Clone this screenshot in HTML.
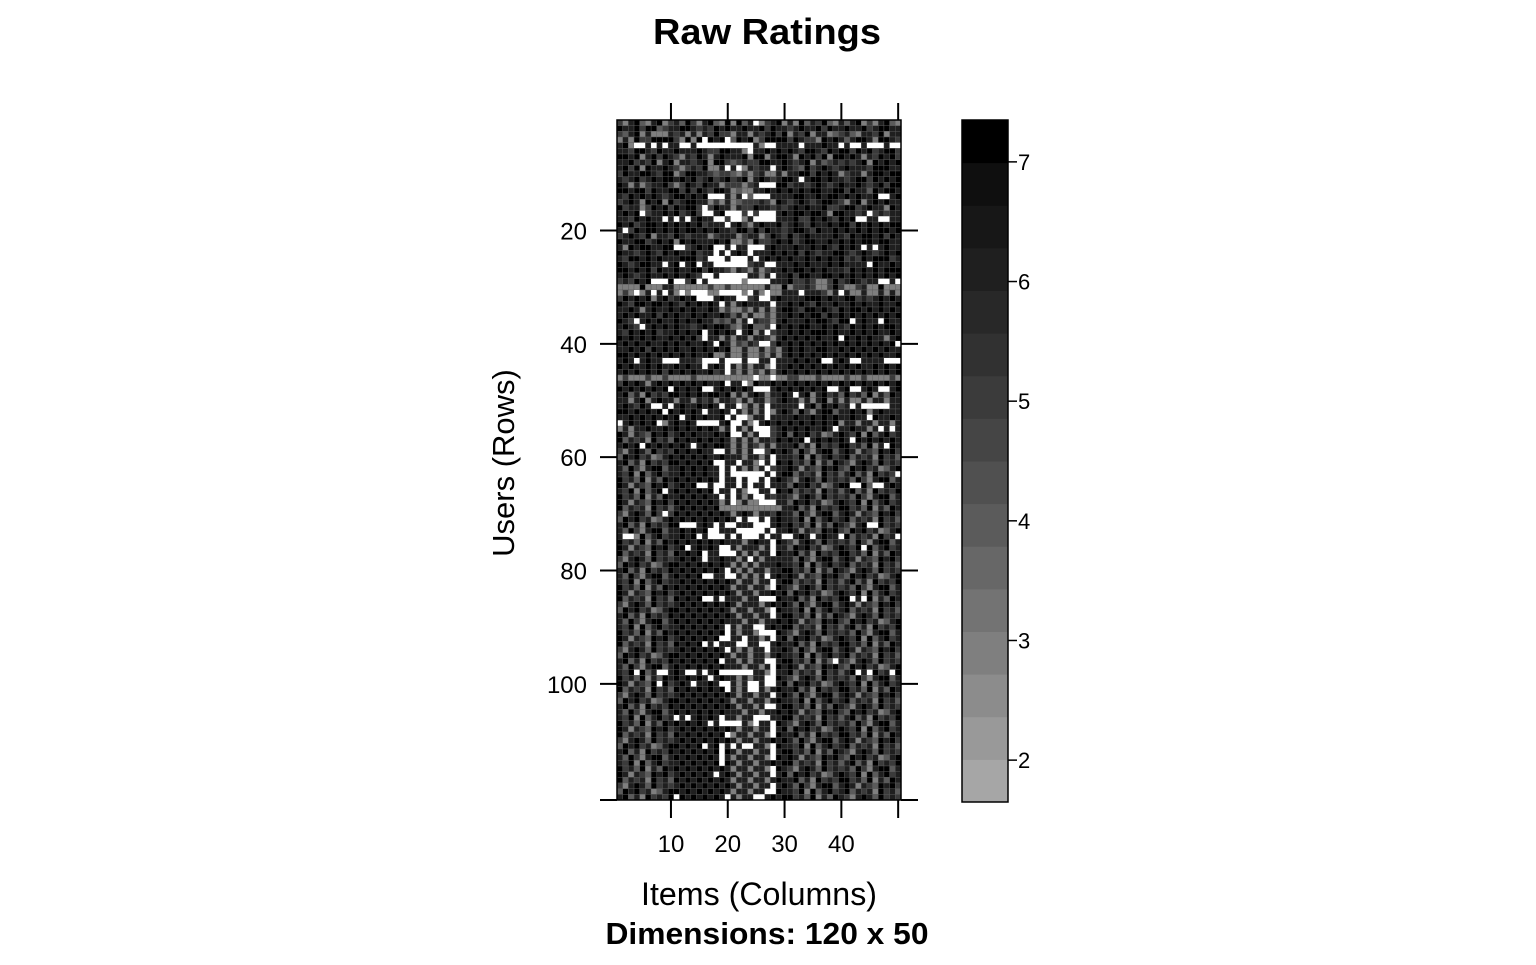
<!DOCTYPE html>
<html><head><meta charset="utf-8"><style>
html,body{margin:0;padding:0;background:#fff;}
svg text{font-family:"Liberation Sans",Arial,sans-serif;fill:#000;}
</style></head><body>
<svg id="chart" width="1536" height="960" viewBox="0 0 1536 960" xmlns="http://www.w3.org/2000/svg">
<text x="767" y="44" font-size="36" font-weight="bold" text-anchor="middle" textLength="228" lengthAdjust="spacingAndGlyphs">Raw Ratings</text>
<text x="759" y="905" font-size="32" text-anchor="middle" textLength="236" lengthAdjust="spacingAndGlyphs">Items (Columns)</text>
<text x="767" y="944" font-size="31" font-weight="bold" text-anchor="middle" textLength="323" lengthAdjust="spacingAndGlyphs">Dimensions: 120 x 50</text>
<text transform="translate(514,463) rotate(-90)" font-size="31" text-anchor="middle">Users (Rows)</text>
<g id="cells"></g>
<rect x="617" y="120" width="284" height="680" fill="none" stroke="#000" stroke-width="1.5"/>
<g id="axes"></g>
<g id="cbar"></g>
</svg>
<script>
const nRows = 120;
const nCols = 50;
const xTicks = [10, 20, 30, 40, 50];
const xTickLabels = ["10", "20", "30", "40", ""];
const yTicks = [20, 40, 60, 80, 100, 120];
const yTickLabels = ["20", "40", "60", "80", "100", ""];
const cbarTicks = [2, 3, 4, 5, 6, 7];
const cbarMin = 1.65;
const cbarMax = 7.35;
const cbarBands = 16;
// rating per cell (5 groups of 10 columns): digit = rating, '.' = missing
const ratingRows = [
"5367436735 6475367437 3746.35673 6374657436 4673536743",
"7667577456 6776565767 6676675766 5676675766 7667567766",
"5467363336 5636365755 3663656757 3657366345 6436657366",
"3637557777 53737.767. 4767357777 5765537676 4677637765",
"673..6.6.6 6..6...... ....63..66 66.666766. 6..6...6..",
"6657765766 7666765577 663.667676 7657765767 7576756775",
"7767367576 5365763676 6673773677 6376757377 6763657675",
"6675657367 3665673775 4565577667 6567364565 6567376767",
"6757376676 535657336. 6.36566.67 6547567656 7666577766",
"5766776577 3577665455 4353563363 6677576763 5663677677",
"6567567677 6767567567 5673676567 76.6776766 5677576767",
"7636356675 3576576635 55356...77 5665676567 6676567577",
"7767757667 7575765776 3433667676 7676776677 5766476776",
"6576767656 776767...6 36.4...666 6776676776 767667..67",
"5676376737 5677663536 3455565376 5676567765 3673676766",
"7566357675 76775.5766 3655766565 6767667556 7756766376",
"6767.56676 75675..67. ..5.5...67 6776776377 6656.56566",
"66576766.6 .6.6766..5 ..36....66 6755767657 67..66..66",
"7675677676 767675666. 6753676675 6765766767 7576767677",
"6.57677676 7677676766 5775757665 6776576676 7676767767",
"5676573665 7656663566 6356635765 7567666676 5767767576",
"7667756767 3767666767 3353755676 7567766767 6767767766",
"6376776677 ..56767..6 .66...6766 6766767657 676.6.6766",
"7665676576 7667566.6. 676.666767 6757656677 6567656767",
"6577676766 677756...6 ...6.67676 7667676767 5657677756",
"76567766.6 7.67.66... ...566..66 6767666767 6666.76676",
"7767675766 7667757665 3653635667 6776767666 5767676777",
"6765676676 76765..6.. ...6636.66 7577667767 6767676767",
"565767...7 ..57.6.... ..3....666 7556533575 676566..6.",
"3333733366 3333335335 3333336337 3556533575 3356337333",
"353.36.6.6 3.3...33.. ..3.63.336 66.666536. 6336336363",
"5767673675 6767...676 6..56..676 6667776766 7756567676",
"7657767767 65767676.6 3676666.66 7676576676 6767667667",
"6676367667 6767667635 3353636367 7657767657 6776767676",
"6767667576 7667676676 4636335366 7676775767 6767676767",
"765.676766 7676766454 636.655367 6667677657 7.6766.766",
"6765.67676 7665676776 4367445.76 7677667676 5767676776",
"6576767566 76767.6767 6.6736.566 7676777676 6767676676",
"7676767667 67675.6636 3663665367 676767667. 7676766367",
"6767676676 7676676.76 35465..576 7676767676 767676767.",
"6676757676 7667676767 3363363536 7676677667 6767676766",
"7767676767 6767667336 3363353636 7676767676 7676767667",
"676.6766.. .6665...6. ..6..66.66 676767..67 6..6666...",
"7676676766 76766.676. 6363663.66 7676767676 7676676767",
"6767676757 676766756. 5363536367 6767676767 6767676767",
"3533353353 3335333333 3333.33.33 5533353333 5335333353",
"5767636767 676767667. 66.3766767 6767676767 6767676767",
"767676767. 76767..676 7676...676 7676767..6 7..676..67",
"6746375657 7676767767 3636763667 6.67367564 7564736476",
"6636736766 3663656366 5363663567 6636367363 6336366366",
"676576..6. 67667676.6 6.3636.666 66.6747675 6.6.....66",
"77676767.7 67676.6676 .63636.367 6475367746 6767367666",
"6676767676 7.6767667. 6..366.666 6766767676 6766.76676",
".676767.36 7676....67 ..63.67676 7676767673 6636636636",
"3636676676 7676767636 .636...567 67676676.6 676636.6.6",
"7636547675 6767666767 ..636..567 4767563467 6573746756",
"7465637564 7676767676 3636366576 767.676767 6.76767676",
"6767.76767 676.676776 3636536366 6746375657 7564736.76",
"5367647565 7676766..6 3636..5767 6475367746 7636547675",
"4767563467 6767676676 6636636.66 6573746756 7465637564",
"6746375657 7676767..6 6.663.6.76 7564736476 5367647565",
"6475367746 67676766.6 .63636.566 7636547675 4767563467",
"6573746756 67676766.6 ......6.67 7465637564 674637565.",
"7564736476 76767676.6 6.6..6.676 5367647565 6475367746",
"7636547675 6767..6..6 6.6.66.666 4767563467 7..74..676",
"65737467.6 7676767.66 .63..66.76 7465637564 6746375657",
"7564736476 67676766.6 .636..6566 5367647565 6475367746",
"7636547675 7676767636 .3633...66 4767563467 6573746756",
"7465637564 6767676733 3333333336 6746375657 7564736476",
"53676475.5 7676767676 3676366576 6475367746 7636547675",
"4767563467 6767676767 6.6..6.676 6573746756 7465637564",
"6746375657 7...676.6. .666...676 7564736476 5367..7565",
"6475367746 676767..66 6.....6.66 7636547675 4767563467",
"6..3746756 6767.6...6 .6...6.66. .676.6766. 746563756.",
"7564736476 7676767676 6636766.76 5367647565 6475367746",
"7636547675 67.67676.. 6366636.66 4767563467 657.746756",
"7465637564 76767.66.. .636366.76 6746375657 7564736476",
"5367647565 67676.6676 636.636666 6475367746 7636547675",
"4767563467 7676767676 3636366676 6573746756 7465637564",
"6746375657 676767676. 6363663667 7564736476 5367647565",
"6475367746 76767..66. .63636.676 7636547675 4767563467",
"6573746756 6767676767 6366366.67 7465637564 6746375657",
"7564736476 7676767676 3663663.76 5367647565 6475367746",
"7636547675 6767676767 6366366767 4767563467 6573746756",
"7465637564 76767..6.6 66366...76 6746375657 7.6.736476",
"5367647565 6767676767 6366636767 6475367746 7636547675",
"4767563467 7676767676 3663663.76 6573746756 7465637564",
"6746375657 6767676767 6366366.67 7564736476 5367647565",
"6475367746 7676767676 6636636676 7636547675 4767563467",
"6573746756 676767676. 6366..6767 7465637564 6746375657",
"7564736476 767676767. 63663...76 5367647565 6475367746",
"7636547675 67676767.. 66.6636.67 4767563467 6573746756",
"7465637564 76767.6.66 6..66..676 6746375657 7564736476",
"5367647565 676767676. 636366.667 6475367746 7636547675",
"4767563467 7676767676 3663663676 6573746756 7465637564",
"6746375657 67676767.6 636366..67 75647364.6 5367647565",
"6475367746 7676767676 6636636.76 7636547675 4767563467",
"657.746..6 76..6.67.. ....663.66 7465637564 67.6.756.7",
"7564736476 767676.676 636366..76 5367647565 6475367746",
"7636547.75 676.6676.. 636..6..67 4767563467 6573746756",
"7465637564 767676767. 636..63676 6746375657 7564736476",
"5367647565 6767676767 6366366.67 6475367746 7636547675",
"4767563467 7676767676 3663663676 6573746756 7465637564",
"6746375657 6767676767 636636..67 7564736476 5367647565",
"6475367746 7676767676 6636636676 7636547675 4767563467",
"6573746756 .6.67676.6 6366...667 7465637564 6746375657",
"7564736476 767676.6.. ..63.66.76 5367647565 6475367746",
"7636547675 6767676767 6366366.67 4767563467 6573746756",
"7465637564 767676767. 3663663.76 6746375657 7564736476",
"5367647565 6767676767 6366366767 6475367746 7636547675",
"4767563467 76767.67.6 .6..663.76 6573746756 7465637564",
"6746375657 67676767.7 6366366.67 7564736476 5367647565",
"6475367746 76767676.6 3663663.76 7636547675 4767563467",
"6573746756 67676767.7 6366366767 7465637564 6746375657",
"7564736476 7676767676 3663663.76 5367647565 6475367746",
"7636547675 6767676.67 6366366.67 4767563467 6573746756",
"7465637564 7676767676 3663663676 6746375657 7564736476",
"5367647565 6767676767 6366366.67 6475367746 7636547675",
"4767563467 7676767676 366366..76 6573746756 7465637564",
"6746375657 .76767676. 6366..6767 7564736476 5367647565"
];
const bandColors = ["#a6a6a6","#999999","#8c8c8c","#7f7f7f","#737373","#676767","#5b5b5b","#505050","#454545","#3b3b3b","#313131","#282828","#1f1f1f","#171717","#0f0f0f","#000000"];

const NS = "http://www.w3.org/2000/svg";
const px0 = 617, px1 = 901, py0 = 120, py1 = 800;
function xScale(c){ return px0 + (c - 0.5) * (px1 - px0) / nCols; }
function yScale(r){ return py0 + (r - 0.5) * (py1 - py0) / nRows; }
const cw = (px1 - px0) / nCols, ch = (py1 - py0) / nRows;
function colorFor(v){
  let i = Math.floor((v - cbarMin) / ((cbarMax - cbarMin) / cbarBands));
  i = Math.max(0, Math.min(cbarBands - 1, i));
  return bandColors[i];
}
function mk(tag, attrs){ const e = document.createElementNS(NS, tag); for (const k in attrs) e.setAttribute(k, attrs[k]); return e; }

const cells = document.getElementById('cells');
for (let r = 1; r <= nRows; r++) {
  const groups = (ratingRows[r - 1] || "").split(" ");
  let row = "";
  for (let g = 0; g < 5; g++) {
    let s = groups[g] || "";
    s = (s + "6666666666").slice(0, 10);
    row += s;
  }
  for (let c = 1; c <= nCols; c++) {
    const ch0 = row[c - 1];
    const fill = ch0 === "." ? "#ffffff" : colorFor(parseInt(ch0, 10));
    const rect = mk('rect', {x: xScale(c) - cw/2, y: yScale(r) - ch/2, width: cw, height: ch, fill: fill, stroke: fill === "#ffffff" ? "none" : "#5a5a5a", "stroke-width": 0.4});
    
    
    cells.appendChild(rect);
  }
}

const axes = document.getElementById('axes');
xTicks.forEach((t, i) => {
  const x = xScale(t);
  const top = mk('line', {x1: x, x2: x, y1: 103, y2: 120, stroke: "#000", "stroke-width": 2});
  
  
  axes.appendChild(top);
  const bot = mk('line', {x1: x, x2: x, y1: 800, y2: 818, stroke: "#000", "stroke-width": 2});
  
  
  axes.appendChild(bot);
  const lbl = mk('text', {x: x, y: 852, "font-size": 24, "text-anchor": "middle"});
  lbl.textContent = xTickLabels[i];
  
  
  axes.appendChild(lbl);
});
yTicks.forEach((t, i) => {
  const y = t === nRows ? py1 : yScale(t);
  const l = mk('line', {x1: 600, x2: 617, y1: y, y2: y, stroke: "#000", "stroke-width": 2});
  
  
  axes.appendChild(l);
  const rt = mk('line', {x1: 901, x2: 918, y1: y, y2: y, stroke: "#000", "stroke-width": 2});
  
  
  axes.appendChild(rt);
  const lbl = mk('text', {x: 587, y: y + 9, "font-size": 24, "text-anchor": "end"});
  lbl.textContent = yTickLabels[i];
  
  
  axes.appendChild(lbl);
});

const cbar = document.getElementById('cbar');
const cx0 = 962, cx1 = 1008, cy0 = 120, cy1 = 802;
function cbY(v){ return cy1 - (v - cbarMin) / (cbarMax - cbarMin) * (cy1 - cy0); }
const bandH = (cy1 - cy0) / cbarBands;
for (let i = 0; i < cbarBands; i++) {
  const b = mk('rect', {x: cx0, y: cy1 - (i + 1) * bandH, width: cx1 - cx0, height: bandH + 0.5, fill: bandColors[i]});
  
  
  cbar.appendChild(b);
}
const fr = mk('rect', {x: cx0, y: cy0, width: cx1 - cx0, height: cy1 - cy0, fill: "none", stroke: "#000", "stroke-width": 1.5});


cbar.appendChild(fr);
cbarTicks.forEach(t => {
  const y = cbY(t);
  const l = mk('line', {x1: cx1, x2: cx1 + 9, y1: y, y2: y, stroke: "#000", "stroke-width": 1.5});
  
  
  cbar.appendChild(l);
  const lbl = mk('text', {x: cx1 + 10, y: y + 8, "font-size": 22});
  lbl.textContent = String(t);
  
  
  cbar.appendChild(lbl);
});
</script>
</body></html>
